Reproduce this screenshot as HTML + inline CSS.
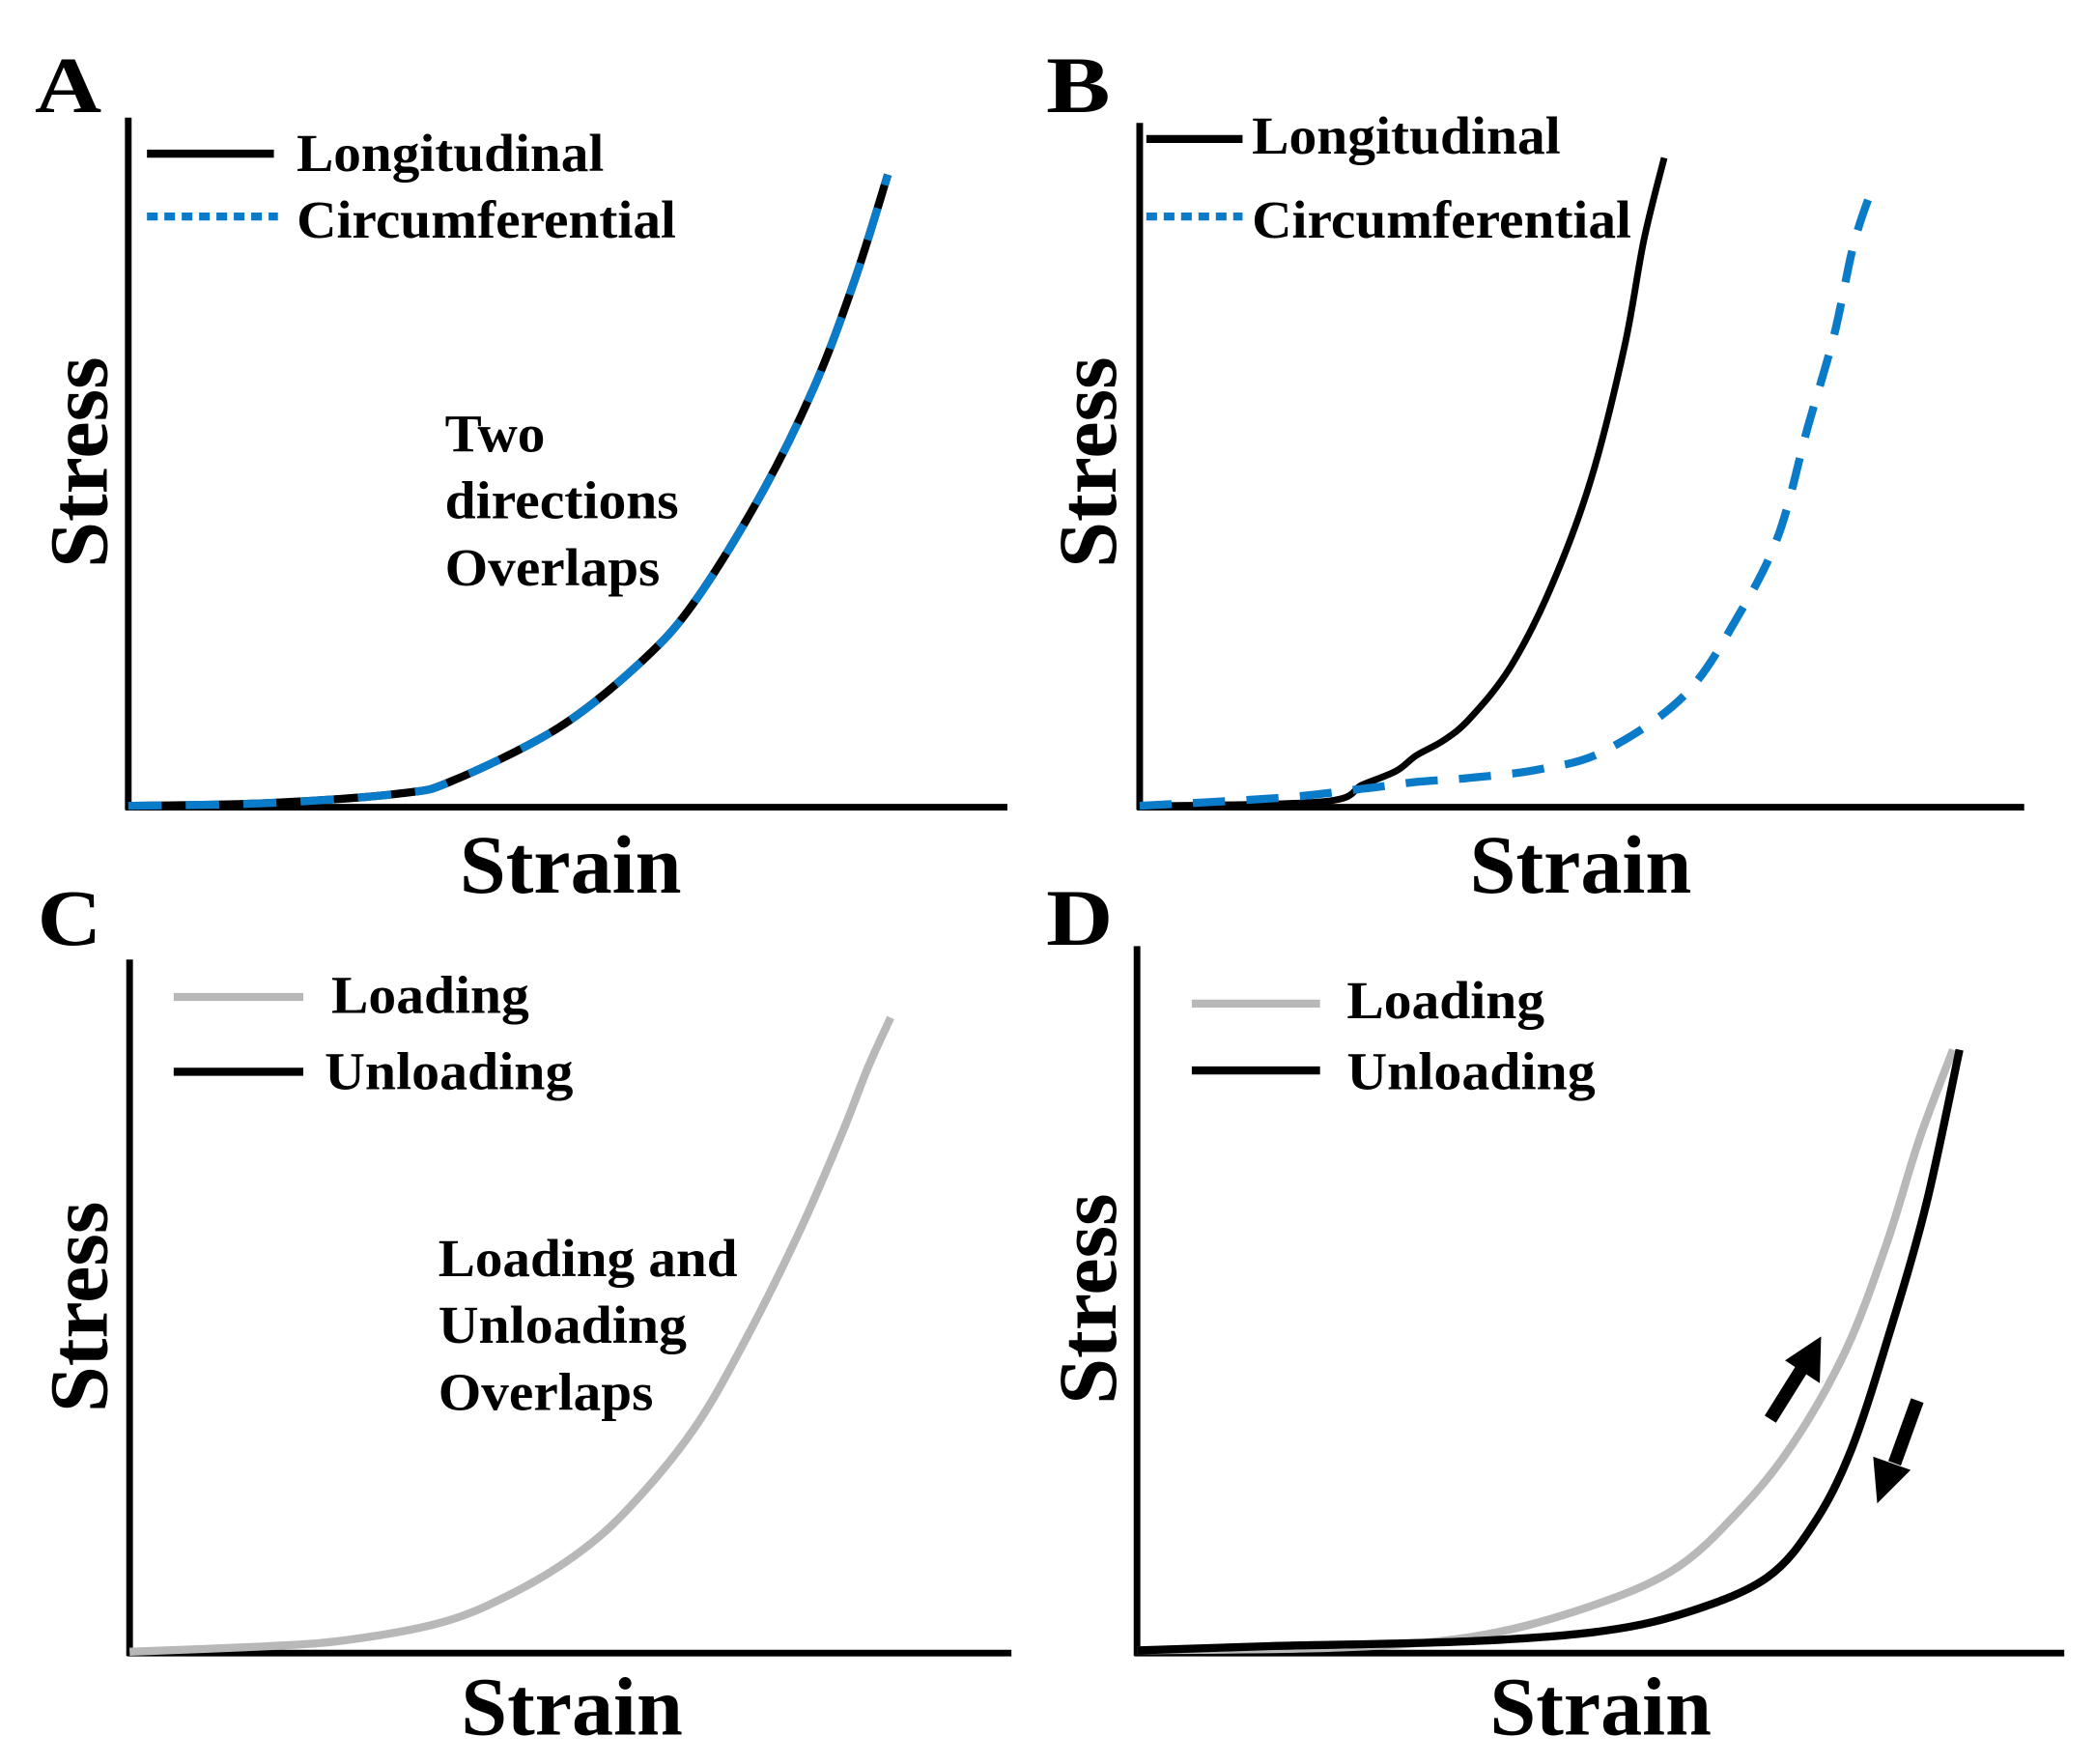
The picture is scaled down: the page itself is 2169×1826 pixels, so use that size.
<!DOCTYPE html>
<html><head><meta charset="utf-8"><style>
html,body{margin:0;padding:0;background:#fff;}
svg{display:block;}
text{font-family:"Liberation Serif",serif;font-weight:bold;fill:#000;}
</style></head><body>
<svg id="fig" width="2169" height="1826" viewBox="0 0 1568 1320" preserveAspectRatio="none">
<g>
<text x="26" y="84" font-size="60" textLength="50" lengthAdjust="spacingAndGlyphs">A</text>
<line x1="96" y1="88" x2="96" y2="606" stroke="#000" stroke-width="5"/>
<line x1="94" y1="604" x2="754" y2="604" stroke="#000" stroke-width="5"/>
<line x1="110" y1="115" x2="205" y2="115" stroke="#000" stroke-width="6"/>
<text x="222" y="128" font-size="40" textLength="230" lengthAdjust="spacingAndGlyphs">Longitudinal</text>
<line x1="110" y1="162" x2="208" y2="162" stroke="#0a7bc9" stroke-width="6" stroke-dasharray="8,5"/>
<text x="222" y="178" font-size="40" textLength="284" lengthAdjust="spacingAndGlyphs">Circumferential</text>
<text transform="translate(80,346) rotate(-90)" text-anchor="middle" font-size="62" textLength="158" lengthAdjust="spacingAndGlyphs">Stress</text>
<text x="427" y="668" text-anchor="middle" font-size="62" textLength="166" lengthAdjust="spacingAndGlyphs">Strain</text>
<text font-size="40"><tspan x="333" y="338" textLength="75" lengthAdjust="spacingAndGlyphs">Two</tspan><tspan x="333" y="388" textLength="175" lengthAdjust="spacingAndGlyphs">directions</tspan><tspan x="333" y="438" textLength="161" lengthAdjust="spacingAndGlyphs">Overlaps</tspan></text>
<path id="aLong" fill="none" stroke="#000" stroke-width="6"/>
<path id="aCirc" fill="none" stroke="#0a7bc9" stroke-width="6" stroke-dasharray="25,18"/>
</g>
<g>
<text x="783" y="84" font-size="60" textLength="48" lengthAdjust="spacingAndGlyphs">B</text>
<line x1="853" y1="92" x2="853" y2="606" stroke="#000" stroke-width="5"/>
<line x1="851" y1="604" x2="1515" y2="604" stroke="#000" stroke-width="5"/>
<line x1="858" y1="104" x2="930" y2="104" stroke="#000" stroke-width="6"/>
<text x="937" y="115" font-size="40" textLength="231" lengthAdjust="spacingAndGlyphs">Longitudinal</text>
<line x1="858" y1="162" x2="930" y2="162" stroke="#0a7bc9" stroke-width="6" stroke-dasharray="8,5"/>
<text x="937" y="178" font-size="40" textLength="284" lengthAdjust="spacingAndGlyphs">Circumferential</text>
<text transform="translate(835,346) rotate(-90)" text-anchor="middle" font-size="62" textLength="158" lengthAdjust="spacingAndGlyphs">Stress</text>
<text x="1183" y="668" text-anchor="middle" font-size="62" textLength="166" lengthAdjust="spacingAndGlyphs">Strain</text>
<path id="bLong" fill="none" stroke="#000" stroke-width="5"/>
<path id="bCirc" fill="none" stroke="#0a7bc9" stroke-width="6" stroke-dasharray="24,16"/>
</g>
<g>
<text x="28" y="707" font-size="60" textLength="48" lengthAdjust="spacingAndGlyphs">C</text>
<line x1="97" y1="718" x2="97" y2="1239" stroke="#000" stroke-width="5"/>
<line x1="95" y1="1237" x2="757" y2="1237" stroke="#000" stroke-width="5"/>
<line x1="130" y1="746" x2="227" y2="746" stroke="#b8b8b8" stroke-width="6"/>
<text x="248" y="758" font-size="40" textLength="148" lengthAdjust="spacingAndGlyphs">Loading</text>
<line x1="130" y1="802" x2="227" y2="802" stroke="#000" stroke-width="6"/>
<text x="243" y="815" font-size="40" textLength="186" lengthAdjust="spacingAndGlyphs">Unloading</text>
<text transform="translate(80,978) rotate(-90)" text-anchor="middle" font-size="62" textLength="158" lengthAdjust="spacingAndGlyphs">Stress</text>
<text x="428" y="1298" text-anchor="middle" font-size="62" textLength="166" lengthAdjust="spacingAndGlyphs">Strain</text>
<text font-size="40"><tspan x="328" y="955" textLength="224" lengthAdjust="spacingAndGlyphs">Loading and</tspan><tspan x="328" y="1005" textLength="186" lengthAdjust="spacingAndGlyphs">Unloading</tspan><tspan x="328" y="1055" textLength="161" lengthAdjust="spacingAndGlyphs">Overlaps</tspan></text>
<path id="cLoad" fill="none" stroke="#b8b8b8" stroke-width="6"/>
</g>
<g>
<text x="783" y="707" font-size="60" textLength="50" lengthAdjust="spacingAndGlyphs">D</text>
<line x1="851" y1="708" x2="851" y2="1239" stroke="#000" stroke-width="5"/>
<line x1="849" y1="1237" x2="1545" y2="1237" stroke="#000" stroke-width="5"/>
<line x1="892" y1="751" x2="988" y2="751" stroke="#b8b8b8" stroke-width="6"/>
<text x="1008" y="762" font-size="40" textLength="148" lengthAdjust="spacingAndGlyphs">Loading</text>
<line x1="892" y1="801" x2="988" y2="801" stroke="#000" stroke-width="6"/>
<text x="1008" y="815" font-size="40" textLength="186" lengthAdjust="spacingAndGlyphs">Unloading</text>
<text transform="translate(835,972) rotate(-90)" text-anchor="middle" font-size="62" textLength="158" lengthAdjust="spacingAndGlyphs">Stress</text>
<text x="1198" y="1298" text-anchor="middle" font-size="62" textLength="166" lengthAdjust="spacingAndGlyphs">Strain</text>
<path id="dLoad" fill="none" stroke="#b8b8b8" stroke-width="6"/>
<path id="dUnload" fill="none" stroke="#000" stroke-width="6"/>
<g>
<line x1="1325" y1="1062" x2="1350" y2="1022" stroke="#000" stroke-width="10"/>
<polygon points="1363,1000 1362,1035 1336,1018" fill="#000"/>
</g>
<g>
<line x1="1435" y1="1048" x2="1418" y2="1095" stroke="#000" stroke-width="10"/>
<polygon points="1405,1125 1402,1090 1430,1100" fill="#000"/>
</g>
</g>
</svg>
<script>
// Data in axis-relative units: strain 0..1 along x-axis, stress 0..1 of y-axis height
const aStrain=[0,0.16,0.31,0.37,0.49,0.585,0.645,0.72,0.78,0.826,0.864];
const aStress=[0,0.004,0.018,0.037,0.114,0.211,0.298,0.453,0.608,0.763,0.917];
const bLongStrain=[0,0.207,0.252,0.29,0.313,0.344,0.374,0.419,0.465,0.51,0.548,0.57,0.593];
const bLongStress=[0,0.006,0.031,0.051,0.074,0.096,0.129,0.203,0.32,0.477,0.672,0.828,0.949];
const bCircStrain=[0,0.162,0.252,0.313,0.374,0.45,0.525,0.616,0.677,0.722,0.755,0.785,0.808,0.831];
const bCircStress=[0,0.012,0.025,0.035,0.041,0.053,0.08,0.162,0.279,0.396,0.553,0.689,0.826,0.914];
const cStrain=[0,0.156,0.247,0.353,0.429,0.505,0.565,0.64,0.701,0.761,0.807,0.837,0.863];
const cStress=[0,0.008,0.017,0.042,0.081,0.139,0.206,0.322,0.457,0.611,0.746,0.843,0.916];
const dLoadStrain=[0,0.216,0.36,0.476,0.577,0.649,0.707,0.764,0.808,0.844,0.88];
const dLoadStress=[0,0.004,0.019,0.057,0.113,0.198,0.293,0.425,0.576,0.727,0.853];
const dUnloadStrain=[0,0.143,0.36,0.505,0.6,0.68,0.73,0.77,0.81,0.851,0.887];
const dUnloadStress=[0,0.006,0.013,0.028,0.057,0.104,0.18,0.284,0.444,0.633,0.853];

function axes(x0,x1,y0,y1){return {x:v=>x0+v*(x1-x0),y:v=>y0-v*(y0-y1)};}
const A=axes(96,754,603,88),B=axes(853,1515,603,92),C=axes(97,757,1236,718),D=axes(851,1545,1235,708);
function smooth(ax,xs,ys){
  const p=xs.map((v,i)=>[ax.x(v),ax.y(ys[i])]);
  let d="M"+p[0][0].toFixed(1)+","+p[0][1].toFixed(1);
  for(let i=0;i<p.length-1;i++){
    const p0=p[i-1]||p[i],p1=p[i],p2=p[i+1],p3=p[i+2]||p2;
    const c1=[p1[0]+(p2[0]-p0[0])/6,p1[1]+(p2[1]-p0[1])/6];
    const c2=[p2[0]-(p3[0]-p1[0])/6,p2[1]-(p3[1]-p1[1])/6];
    d+=" C"+c1.map(n=>n.toFixed(1))+" "+c2.map(n=>n.toFixed(1))+" "+p2.map(n=>n.toFixed(1));
  }
  return d;
}
document.getElementById('aLong').setAttribute('d',smooth(A,aStrain,aStress));
document.getElementById('aCirc').setAttribute('d',smooth(A,aStrain,aStress));
document.getElementById('bLong').setAttribute('d',smooth(B,bLongStrain,bLongStress));
document.getElementById('bCirc').setAttribute('d',smooth(B,bCircStrain,bCircStress));
document.getElementById('cLoad').setAttribute('d',smooth(C,cStrain,cStress));
document.getElementById('dLoad').setAttribute('d',smooth(D,dLoadStrain,dLoadStress));
document.getElementById('dUnload').setAttribute('d',smooth(D,dUnloadStrain,dUnloadStress));
</script>
</body></html>
